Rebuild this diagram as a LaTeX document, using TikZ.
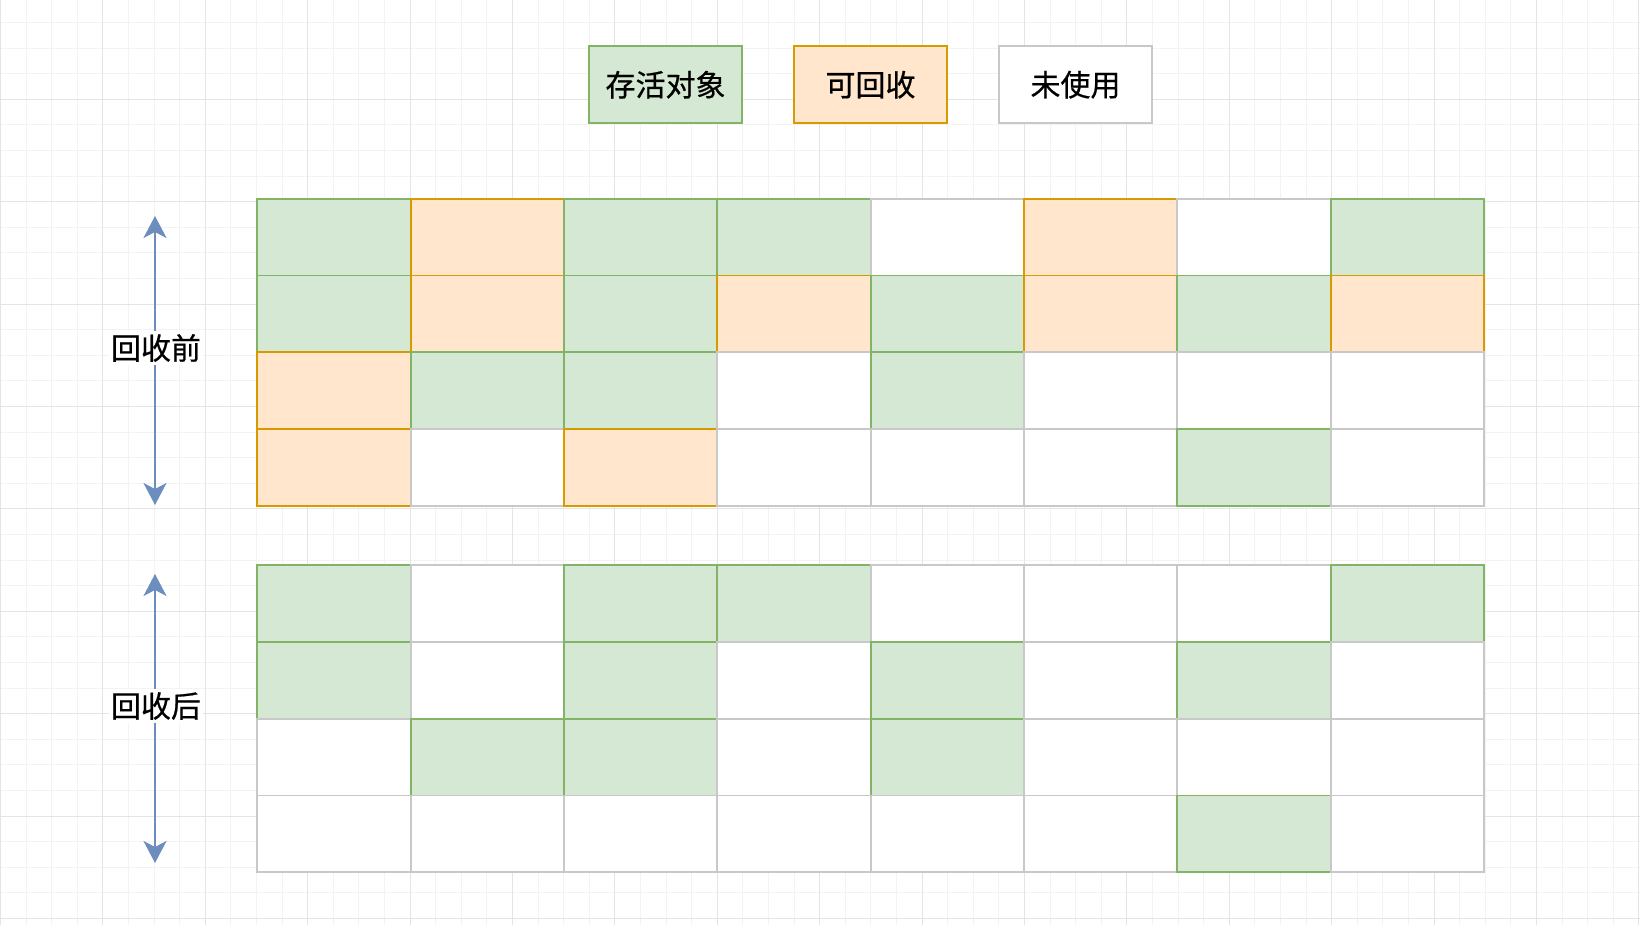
\documentclass[tikz,border=0pt]{standalone}
\usepackage{fontspec}
\setmainfont{Noto Sans CJK SC}[FakeBold=0.6]
\usetikzlibrary{arrows.meta}
\definecolor{livefill}{HTML}{D5E8D4}
\definecolor{livedraw}{HTML}{82B366}
\definecolor{reclaimfill}{HTML}{FFE6CC}
\definecolor{reclaimdraw}{HTML}{D79B00}
\definecolor{unuseddraw}{HTML}{C8C8C8}
\definecolor{spanblue}{HTML}{6C8EBF}
\definecolor{gridminor}{HTML}{F3F3F3}
\definecolor{gridmajor}{HTML}{E4E4E4}

\begin{document}
\begin{tikzpicture}[x=0.5pt, y=-0.5pt,
  cell/.style={minimum width=76.7pt, minimum height=38.4pt, inner sep=0pt, outer sep=0pt, line width=0.9pt, font=\fontsize{15pt}{18pt}\selectfont},
  live/.style={cell, draw=livedraw, fill=livefill},
  reclaim/.style={cell, draw=reclaimdraw, fill=reclaimfill},
  unused/.style={cell, draw=unuseddraw, fill=white},
  gcarrow/.style={spanblue, line width=1pt, <->, >={Stealth[length=11pt, width=11.5pt, inset=3pt]}},
  spanlabel/.style={fill=white, inner xsep=1pt, inner ysep=1.5pt, font=\fontsize{15pt}{18pt}\selectfont}]
  \fill[white] (0,0) rectangle (1640,925);
  \useasboundingbox (0,0) rectangle (1640,925);
  % background grid
  \foreach \k in {0,...,64}
    \draw[gridminor, line width=0.5pt] ({0.5+25.6*\k},0) -- ({0.5+25.6*\k},925);
  \foreach \k in {0,...,35}
    \draw[gridminor, line width=0.5pt] (0,{22.5+25.6*\k}) -- (1640,{22.5+25.6*\k});
  \foreach \k in {0,...,16}
    \draw[gridmajor, line width=0.5pt] ({0.5+102.4*\k},0) -- ({0.5+102.4*\k},925);
  \foreach \k in {0,...,8}
    \draw[gridmajor, line width=0.5pt] (0,{99.3+102.4*\k}) -- (1640,{99.3+102.4*\k});

  % legend
  \node[live] (key-live) at (665.5,84.7) {存活对象};
  \node[reclaim] (key-reclaim) at (870.5,84.7) {可回收};
  \node[unused] (key-unused) at (1075.5,84.7) {未使用};

  % before collection
  \foreach \kind [count=\c] in {live,reclaim,live,live,unused,reclaim,unused,live}
    \node[\kind] (pre-1-\c) at ({257.3+153.35*(\c-0.5)},237.1) {};
  \foreach \kind [count=\c] in {live,reclaim,live,reclaim,live,reclaim,live,reclaim}
    \node[\kind] (pre-2-\c) at ({257.3+153.35*(\c-0.5)},313.9) {};
  \foreach \kind [count=\c] in {reclaim,live,live,unused,live,unused,unused,unused}
    \node[\kind] (pre-3-\c) at ({257.3+153.35*(\c-0.5)},390.7) {};
  \foreach \kind [count=\c] in {reclaim,unused,reclaim,unused,unused,unused,live,unused}
    \node[\kind] (pre-4-\c) at ({257.3+153.35*(\c-0.5)},467.5) {};

  % after collection
  \foreach \kind [count=\c] in {live,unused,live,live,unused,unused,unused,live}
    \node[\kind] (post-1-\c) at ({257.3+153.35*(\c-0.5)},603.4) {};
  \foreach \kind [count=\c] in {live,unused,live,unused,live,unused,live,unused}
    \node[\kind] (post-2-\c) at ({257.3+153.35*(\c-0.5)},680.2) {};
  \foreach \kind [count=\c] in {unused,live,live,unused,live,unused,unused,unused}
    \node[\kind] (post-3-\c) at ({257.3+153.35*(\c-0.5)},757.0) {};
  \foreach \kind [count=\c] in {unused,unused,unused,unused,unused,unused,live,unused}
    \node[\kind] (post-4-\c) at ({257.3+153.35*(\c-0.5)},833.8) {};

  % spans
  \coordinate (pre-top) at (155,216);
  \coordinate (pre-bottom) at (155,505);
  \draw[gcarrow] (pre-top) -- (pre-bottom);
  \node[spanlabel] (pre-label) at (156,348) {回收前};
  \coordinate (post-top) at (155,574);
  \coordinate (post-bottom) at (155,863);
  \draw[gcarrow] (post-top) -- (post-bottom);
  \node[spanlabel] (post-label) at (156,706) {回收后};
\end{tikzpicture}
\end{document}
